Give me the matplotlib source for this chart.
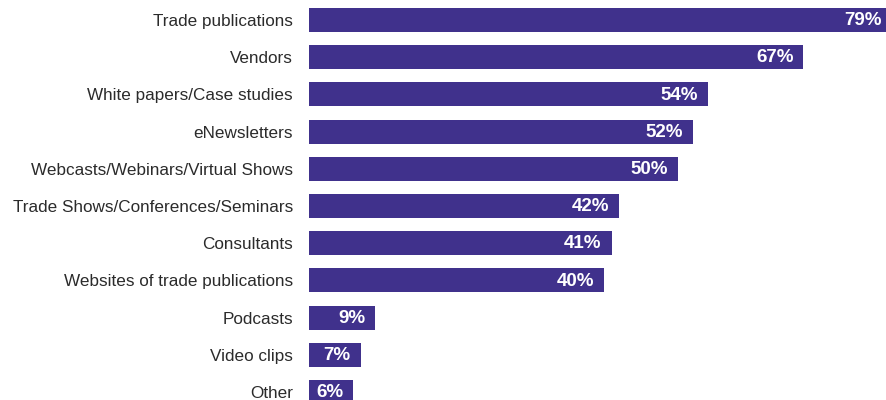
import matplotlib
matplotlib.use("Agg")
import matplotlib.pyplot as plt

categories = ["Trade publications", "Vendors", "White papers/Case studies", "eNewsletters",
              "Webcasts/Webinars/Virtual Shows", "Trade Shows/Conferences/Seminars",
              "Consultants", "Websites of trade publications", "Podcasts", "Video clips", "Other"]
values = [79, 67, 54, 52, 50, 42, 41, 40, 9, 7, 6]

W, H = 886, 400
fig = plt.figure(figsize=(W/100, H/100), dpi=100)
ax = fig.add_axes([309/W, 0, 1 - 309/W, 1])
color = "#40318C"
y = list(range(len(categories)))
ax.barh(y, values, height=0.645, color=color, left=0)
ax.set_xlim(0, 577/7.38)
sp = (392-20)/10
ax.set_ylim(10 + 8/sp, -20/sp)
ax.set_yticks(y)
ax.set_yticklabels(categories, fontsize=12.3, color="#2b2b2b", family="Liberation Sans")
ax.tick_params(axis='y', length=0, pad=11.5)
ax.set_xticks([])
for s in ax.spines.values():
    s.set_visible(False)
for yi, v in zip(y, values):
    ax.text(v - 1.35, yi + 0.02, f"{v}%", ha="right", va="center", color="white",
            fontsize=13.5, fontweight="bold", family="Liberation Sans")
fig.savefig("out.png", dpi=100)
